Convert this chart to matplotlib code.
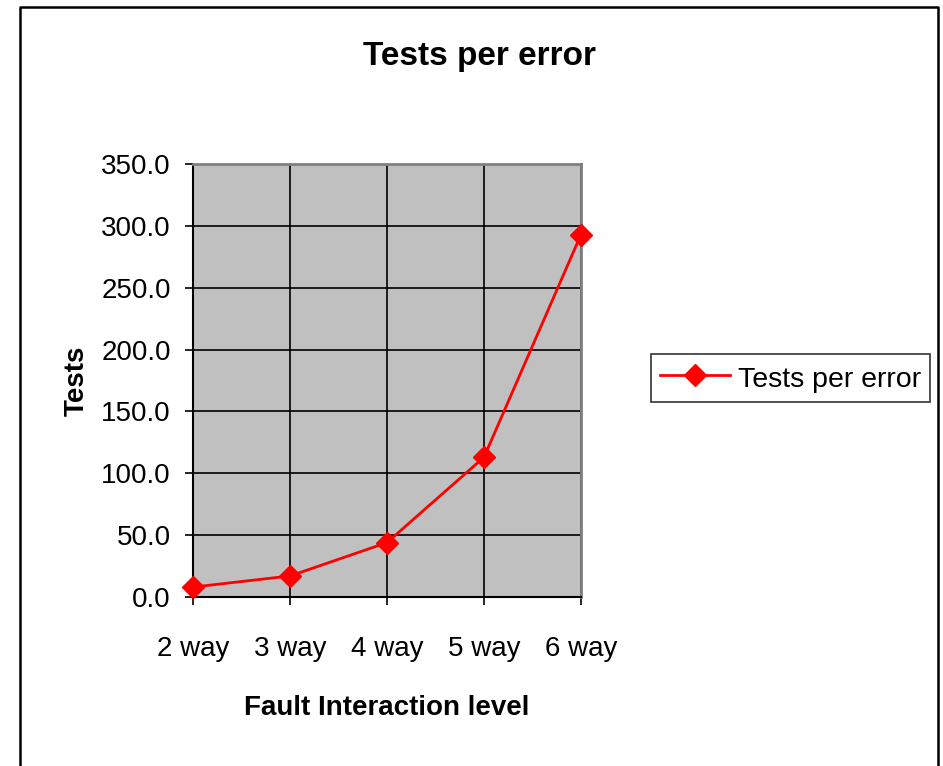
import matplotlib

matplotlib.use("Agg")
import matplotlib.pyplot as plt
from matplotlib.lines import Line2D

plt.rcParams["font.family"] = ["Liberation Sans", "DejaVu Sans"]

levels = ["2 way", "3 way", "4 way", "5 way", "6 way"]
tests_per_error = [8.0, 17.0, 44.0, 113.0, 293.0]
y_ticks = [0, 50, 100, 150, 200, 250, 300, 350]

fig = plt.figure(figsize=(9.43, 7.66), dpi=100)
ax = fig.add_axes([193 / 943, 1 - 597 / 766, 388 / 943, 433 / 766])

ax.set_facecolor("#c0c0c0")
ax.plot(range(len(levels)), tests_per_error, color="#ff0000", lw=2.0,
        marker="D", markersize=11, clip_on=False, zorder=5,
        label="Tests per error")

ax.set_xlim(0, len(levels) - 1)
ax.set_ylim(0, 350)
ax.set_xticks(range(len(levels)))
ax.set_xticklabels(levels)
ax.set_yticks(y_ticks)
ax.set_yticklabels([f"{v:.1f}" for v in y_ticks])
ax.grid(True, color="black", lw=1.2)
ax.set_axisbelow(True)
ax.tick_params(labelsize=20, length=6, width=1.2, color="black")
ax.tick_params(axis="y", pad=10)
ax.tick_params(axis="x", pad=22)

for side in ("top", "right"):
    ax.spines[side].set_color("#808080")
    ax.spines[side].set_linewidth(2)
for side in ("left", "bottom"):
    ax.spines[side].set_color("black")
    ax.spines[side].set_linewidth(1.5)

ax.set_ylabel("Tests", fontsize=20, fontweight="bold", labelpad=8)
ax.set_xlabel("Fault Interaction level", fontsize=20, fontweight="bold",
              labelpad=24)
fig.text(480 / 943, 1 - 57 / 766, "Tests per error", fontsize=24,
         fontweight="bold", ha="center", va="center")

leg = fig.legend(loc="center left", bbox_to_anchor=(651 / 943, 1 - 378 / 766),
                 fontsize=20.5, frameon=True, fancybox=False, borderpad=0.32,
                 handlelength=2.45, handleheight=1.2, handletextpad=0.28,
                 borderaxespad=0)
leg.get_frame().set_edgecolor("black")
leg.get_frame().set_linewidth(1.2)

# outer chart border (open at the bottom)
x0, x1, yt = 20 / 943, 938 / 943, 1 - 7 / 766
fig.add_artist(Line2D([x0, x0, x1, x1], [0, yt, yt, 0], color="black", lw=1.8,
                      transform=fig.transFigure))

fig.savefig("out.png", dpi=100)
